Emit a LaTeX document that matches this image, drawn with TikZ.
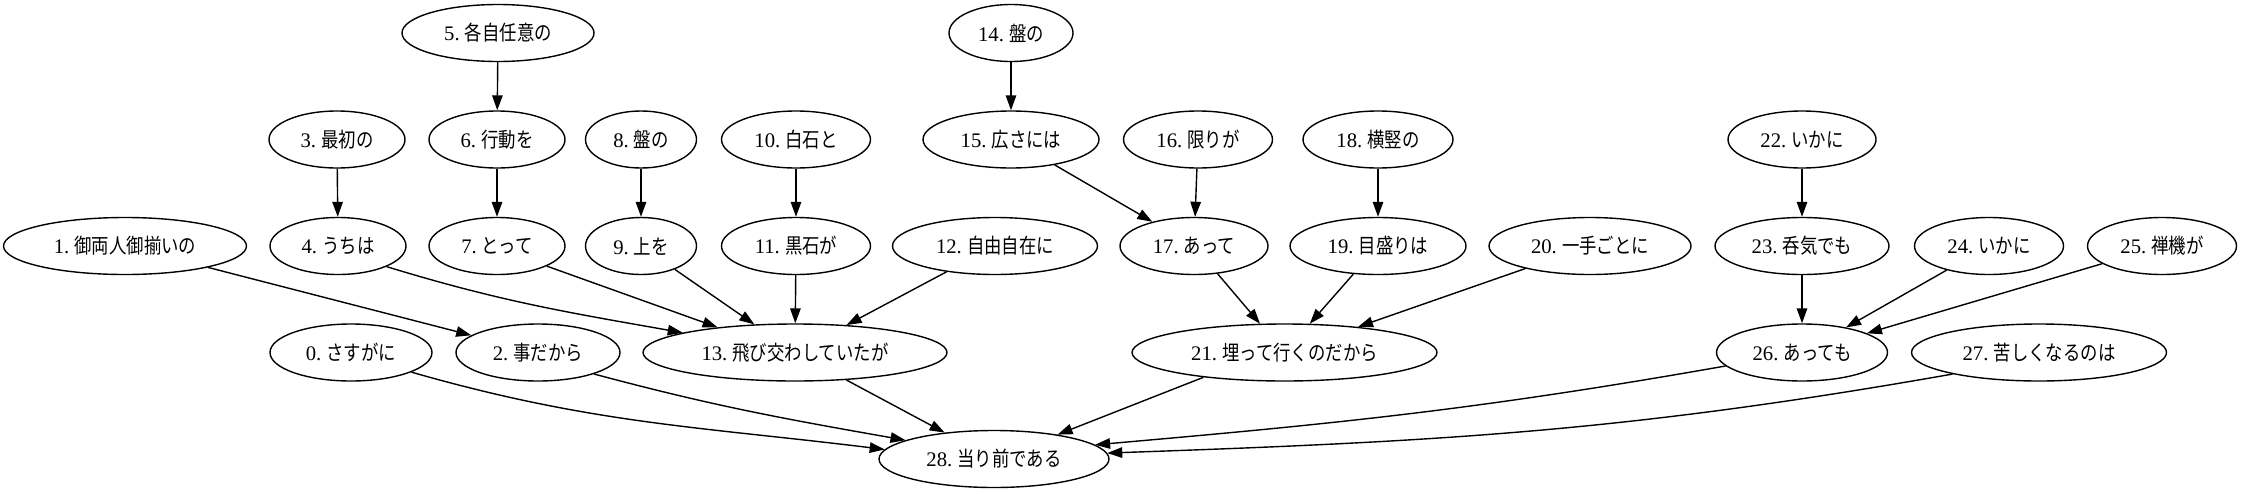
\documentclass[tikz,border=0pt]{standalone}
\usepackage{fontspec}
\setmainfont{Liberation Serif}
\newfontfamily\jp[FakeStretch=0.84]{Noto Sans CJK JP}
\usetikzlibrary{shapes.geometric,arrows.meta}
\newcommand\nlab[2]{#1.\ {\jp #2}}
\tikzset{
  nd/.style={draw, ellipse, line width=1.4pt, inner sep=0pt, minimum height=57pt,
    font=\fontsize{20.7}{24}\selectfont},
  conn/.style={line width=1.4pt, -{Triangle[length=15pt,width=10.5pt]}},
}
\begin{document}
\begin{tikzpicture}[x=1pt,y=-1pt]
\path[use as bounding box, fill=white] (0,0) rectangle (2242,493);
% row 1
\node[nd, minimum width=192] (n5)  at (498,33)  {\nlab{5}{各自任意の}};
\node[nd, minimum width=124] (n14) at (1011,33) {\nlab{14}{盤の}};
% row 2
\node[nd, minimum width=136] (n3)  at (337,139.5)  {\nlab{3}{最初の}};
\node[nd, minimum width=136] (n6)  at (497,139.5)  {\nlab{6}{行動を}};
\node[nd, minimum width=111] (n8)  at (641,139.5)  {\nlab{8}{盤の}};
\node[nd, minimum width=149] (n10) at (796,139.5)  {\nlab{10}{白石と}};
\node[nd, minimum width=176] (n15) at (1011,139.5) {\nlab{15}{広さには}};
\node[nd, minimum width=149] (n16) at (1198,139.5) {\nlab{16}{限りが}};
\node[nd, minimum width=150] (n18) at (1378,139.5) {\nlab{18}{横竪の}};
\node[nd, minimum width=148] (n22) at (1802,139.5) {\nlab{22}{いかに}};
% row 3
\node[nd, minimum width=243] (n1)  at (125,246)  {\nlab{1}{御両人御揃いの}};
\node[nd, minimum width=136] (n4)  at (338,246)  {\nlab{4}{うちは}};
\node[nd, minimum width=136] (n7)  at (497,246)  {\nlab{7}{とって}};
\node[nd, minimum width=111] (n9)  at (641,246)  {\nlab{9}{上を}};
\node[nd, minimum width=149] (n11) at (796,246)  {\nlab{11}{黒石が}};
\node[nd, minimum width=205] (n12) at (995,246)  {\nlab{12}{自由自在に}};
\node[nd, minimum width=148] (n17) at (1194,246) {\nlab{17}{あって}};
\node[nd, minimum width=176] (n19) at (1378,246) {\nlab{19}{目盛りは}};
\node[nd, minimum width=202] (n20) at (1590,246) {\nlab{20}{一手ごとに}};
\node[nd, minimum width=174] (n23) at (1802,246) {\nlab{23}{呑気でも}};
\node[nd, minimum width=149] (n24) at (1989,246) {\nlab{24}{いかに}};
\node[nd, minimum width=149] (n25) at (2162,246) {\nlab{25}{禅機が}};
% row 4
\node[nd, minimum width=162] (n0)  at (351,352.5)    {\nlab{0}{さすがに}};
\node[nd, minimum width=164] (n2)  at (538,352.5)    {\nlab{2}{事だから}};
\node[nd, minimum width=304] (n13) at (795,352.5)    {\nlab{13}{飛び交わしていたが}};
\node[nd, minimum width=305] (n21) at (1284.5,352.5) {\nlab{21}{埋って行くのだから}};
\node[nd, minimum width=171] (n26) at (1802,352.5)   {\nlab{26}{あっても}};
\node[nd, minimum width=255] (n27) at (2039,352.5)   {\nlab{27}{苦しくなるのは}};
% row 5
\node[nd, minimum width=230] (n28) at (994,459) {\nlab{28}{当り前である}};
% edges
\draw[conn] (n5) -- (n6);
\draw[conn] (n3) -- (n4);
\draw[conn] (n6) -- (n7);
\draw[conn] (n8) -- (n9);
\draw[conn] (n10) -- (n11);
\draw[conn] (n14) -- (n15);
\draw[conn] (n15) -- (n17);
\draw[conn] (n16) -- (n17);
\draw[conn] (n18) -- (n19);
\draw[conn] (n22) -- (n23);
\draw[conn] (n1) -- (n2);
\draw[conn] (n4.337) to[out=-17,in=170] (n13.170);
\draw[conn] (n7.338) -- (n13.162);
\draw[conn] (n9) -- (n13);
\draw[conn] (n11) -- (n13);
\draw[conn] (n12) -- (n13);
\draw[conn] (n17) -- (n21);
\draw[conn] (n19) -- (n21);
\draw[conn] (n20) -- (n21);
\draw[conn] (n23) -- (n26);
\draw[conn] (n24) -- (n26);
\draw[conn] (n25) -- (n26);
\draw[conn] (n0.342) to[out=-16,in=173] (n28.175);
\draw[conn] (n2.339) to[out=-15,in=170] (n28.168);
\draw[conn] (n13) -- (n28);
\draw[conn] (n21.197) -- (n28.21);
\draw[conn] (n26.190) to[out=-170,in=5] (n28.8);
\draw[conn] (n27.194) to[out=-170,in=2] (n28.3);
\end{tikzpicture}
\end{document}
